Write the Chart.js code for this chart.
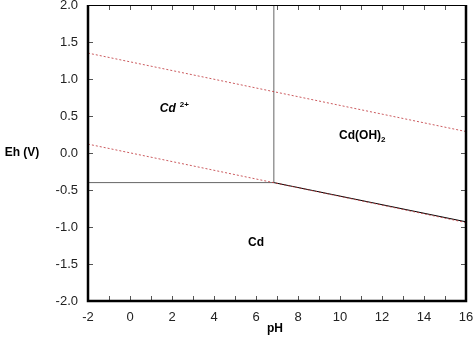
<!DOCTYPE html>
<html>
<head>
<meta charset="utf-8">
<script src="https://cdn.jsdelivr.net/npm/chart.js@4/dist/chart.umd.min.js"></script>
<style>
  html, body { margin: 0; padding: 0; background: #fff; }
  #wrap { width: 476px; height: 348px; }
</style>
</head>
<body>
<div id="wrap"><canvas id="ehph"></canvas></div>
<script>
// boundary lines of the Eh-pH diagram for cadmium (pH, Eh in volts)
const phRange = [-2, 16];
const ehRange = [-2, 2];

const o2WaterPh = [-2, 16];
const o2WaterEh = [1.35, 0.29];

const h2WaterPh = [-2, 16];
const h2WaterEh = [0.12, -0.94];

const cdIonPh = [-2, 6.85];
const cdIonEh = [-0.40, -0.40];

const ionHydroxPh = [6.85, 6.85];
const ionHydroxEh = [-0.40, 2.0];

const hydroxMetalPh = [6.85, 16];
const hydroxMetalEh = [-0.40, -0.93];

// field labels: text, pH, Eh
const fieldNames = ['Cd', 'Cd(OH)', 'Cd'];
const fieldPh = [1.8, 11.1, 6.0];
const fieldEh = [0.60, 0.23, -1.21];

function pts(xs, ys) {
  return xs.map((x, i) => ({ x: x, y: ys[i] }));
}

const font = 'Liberation Sans, Arial, sans-serif';

const fieldLabels = {
  id: 'fieldLabels',
  afterDatasetsDraw(chart) {
    const { ctx, scales: { x, y } } = chart;
    ctx.save();
    ctx.fillStyle = '#000';
    ctx.textBaseline = 'middle';

    // Cd2+ (italic, with charge)
    let px = x.getPixelForValue(fieldPh[0]);
    let py = y.getPixelForValue(fieldEh[0]);
    ctx.font = 'italic bold 12px ' + font;
    ctx.textAlign = 'left';
    ctx.fillText(fieldNames[0], px - 8, py);
    let w = ctx.measureText(fieldNames[0]).width;
    ctx.font = 'bold 8px ' + font;
    ctx.fillText('2+', px - 8 + w + 4, py - 4);

    // Cd(OH)2
    px = x.getPixelForValue(fieldPh[1]);
    py = y.getPixelForValue(fieldEh[1]);
    ctx.font = 'bold 12px ' + font;
    w = ctx.measureText(fieldNames[1]).width;
    ctx.fillText(fieldNames[1], px - w / 2 - 3, py);
    ctx.font = 'bold 8px ' + font;
    ctx.fillText('2', px + w / 2 - 3, py + 4);

    // Cd
    px = x.getPixelForValue(fieldPh[2]);
    py = y.getPixelForValue(fieldEh[2]);
    ctx.font = 'bold 12px ' + font;
    ctx.textAlign = 'center';
    ctx.fillText(fieldNames[2], px, py);
    ctx.restore();
  }
};

const frame = {
  id: 'frame',
  afterDraw(chart) {
    const { ctx, chartArea: a, scales: { x, y } } = chart;
    ctx.save();

    // inward ticks
    ctx.lineWidth = 1;
    ctx.strokeStyle = '#555';
    ctx.beginPath();
    for (let v = phRange[0] + 1; v < phRange[1]; v++) {
      const px = Math.round(x.getPixelForValue(v)) + 0.5;
      ctx.moveTo(px, a.bottom); ctx.lineTo(px, a.bottom - 5);
      ctx.moveTo(px, a.top); ctx.lineTo(px, a.top + 5);
    }
    for (let v = ehRange[0] + 0.5; v < ehRange[1]; v += 0.5) {
      const py = Math.round(y.getPixelForValue(v)) + 0.5;
      ctx.moveTo(a.left, py); ctx.lineTo(a.left + 5, py);
      ctx.moveTo(a.right, py); ctx.lineTo(a.right - 5, py);
    }
    ctx.stroke();

    // box: heavy left, bottom, right; light top
    ctx.strokeStyle = '#000';
    ctx.lineWidth = 1;
    ctx.beginPath();
    ctx.moveTo(a.left, a.top + 0.5); ctx.lineTo(a.right, a.top + 0.5);
    ctx.stroke();
    ctx.lineWidth = 2.5;
    ctx.beginPath();
    ctx.moveTo(a.left, a.top);
    ctx.lineTo(a.left, a.bottom);
    ctx.lineTo(a.right, a.bottom);
    ctx.lineTo(a.right, a.top);
    ctx.stroke();

    // axis titles
    ctx.fillStyle = '#000';
    ctx.font = 'bold 12px ' + font;
    ctx.textAlign = 'center';
    ctx.textBaseline = 'middle';
    ctx.fillText('Eh (V)', 22, y.getPixelForValue(0));
    ctx.fillText('pH', x.getPixelForValue(6.9), 329);
    ctx.restore();
  }
};

const dotted = 'rgba(190, 50, 55, 0.8)';

new Chart(document.getElementById('ehph'), {
  type: 'scatter',
  data: {
    datasets: [
      { data: pts(o2WaterPh, o2WaterEh), borderColor: dotted, borderDash: [2, 2], borderWidth: 1 },
      { data: pts(h2WaterPh, h2WaterEh), borderColor: dotted, borderDash: [2, 2], borderWidth: 1 },
      { data: pts(cdIonPh, cdIonEh), borderColor: '#666', borderWidth: 1 },
      { data: pts(ionHydroxPh, ionHydroxEh), borderColor: '#666', borderWidth: 1 },
      { data: pts(hydroxMetalPh, hydroxMetalEh), borderColor: '#000', borderWidth: 1 }
    ].map(d => Object.assign(d, { showLine: true, pointRadius: 0, fill: false }))
  },
  options: {
    responsive: true,
    maintainAspectRatio: false,
    animation: false,
    layout: { padding: { left: 0, right: 10, top: 5, bottom: 0 } },
    plugins: { legend: { display: false }, tooltip: { enabled: false } },
    scales: {
      x: {
        type: 'linear',
        min: phRange[0], max: phRange[1],
        border: { display: false },
        grid: { display: false, drawTicks: false },
        ticks: {
          stepSize: 2, padding: 9, color: '#222',
          font: { family: font, size: 13 }
        },
        afterFit(s) { s.height = 47; s.paddingLeft = 0; s.paddingRight = 0; }
      },
      y: {
        type: 'linear',
        min: ehRange[0], max: ehRange[1],
        border: { display: false },
        grid: { display: false, drawTicks: false },
        ticks: {
          stepSize: 0.5, padding: 10, color: '#222',
          font: { family: font, size: 13 },
          callback: v => v.toFixed(1)
        },
        afterFit(s) { s.width = 88; s.paddingTop = 0; s.paddingBottom = 0; }
      }
    }
  },
  plugins: [fieldLabels, frame]
});
</script>
</body>
</html>
